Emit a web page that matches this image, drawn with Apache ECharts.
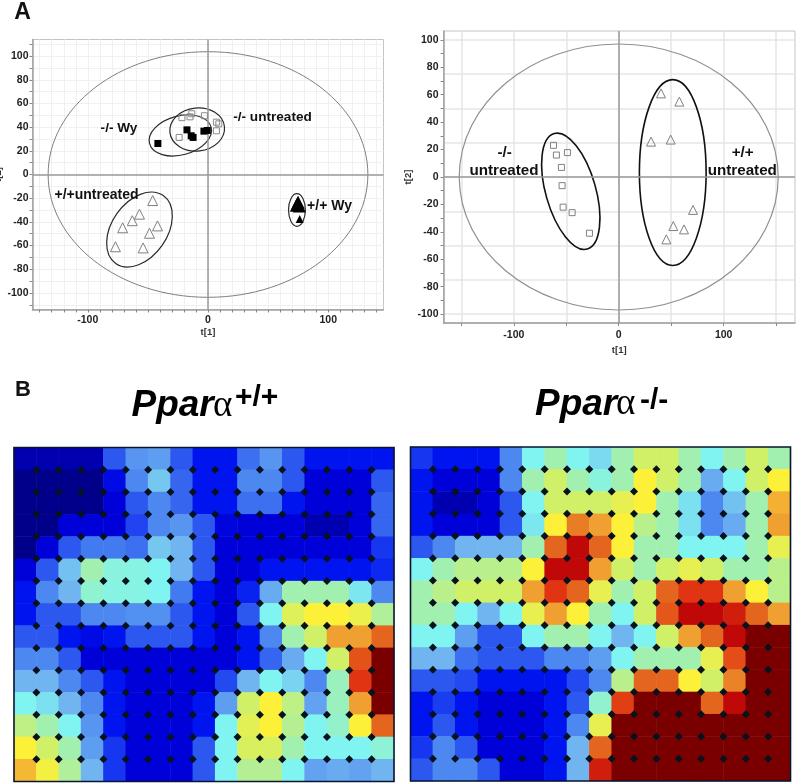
<!DOCTYPE html>
<html><head><meta charset="utf-8">
<style>html,body{margin:0;padding:0;background:#fff}#c{width:797px;height:784px}</style>
<script src="https://cdn.jsdelivr.net/npm/echarts@6/dist/echarts.min.js"></script>
</head><body><div id="c"></div>
<script>
// ---------- Panel A, left score plot ----------
const leftOpenSquares = [[-21.7,48],[-15,48.7],[-13.5,51.3],[-3,49.6],[7,44.2],[9,42.8],[7,36.9],[-24,31.3]];
const leftFilledSquares = [[-41.7,26.2],[-17.5,37.7],[-14,32.7],[-12.4,31.3],[-3.4,36.6],[-0.6,37.2]];
const leftOpenTriangles = [[-46,-22],[-57,-33.5],[-63,-39],[-71,-45],[-77,-61],[-54,-62],[-48.7,-49.6],[-42,-43.4]];
const leftFilledTrianglesBig = [[74.6,-24],[73.5,-26],[76,-26.5],[74.8,-25],[75,-23.5]];
const leftFilledTrianglesSmall = [[76.3,-37.5]];
// cx, cy, radius along x, radius along y, tilt in degrees
const leftGroupEllipses = [[-23,33,26.5,16.5,15],[-9,38,22.8,18.2,6],[-57,-46.5,23,35,-35],[74,-30,7,13.8,0]];
const leftHotelling = [[0,0,133,103.7,0]];
// ---------- Panel A, right score plot ----------
const rightSquares = [[-62.2,23.1],[-59.4,16],[-48.9,17.8],[-54.6,7],[-54,-6.3],[-53,-22],[-44.4,-26],[-27.9,-41]];
const rightTriangles = [[40.3,61],[57.8,55],[30.8,25.8],[49.5,27.3],[70.8,-24],[52,-35.8],[62.2,-38.2],[45.4,-45.5]];
const rightGroupEllipses = [[-45.7,-10.4,23.8,43.8,16],[51.5,3.2,31.8,67.8,0]];
const rightHotelling = [[0,0,152,97,0]];
// ---------- Axis tick labels ----------
const leftXLabels = [-100,0,100];
const leftYLabels = [-100,-80,-60,-40,-20,0,20,40,60,80,100];
const leftXTicks = [-140,-130,-120,-110,-100,-90,-80,-70,-60,-50,-40,-30,-20,-10,0,10,20,30,40,50,60,70,80,90,100,110,120,130,140];
const leftYTicks = [-110,-100,-90,-80,-70,-60,-50,-40,-30,-20,-10,0,10,20,30,40,50,60,70,80,90,100,110];
const rightXLabels = [-100,0,100];
const rightYLabels = [-100,-80,-60,-40,-20,0,20,40,60,80,100];
const rightXTicks = [-150,-100,-50,0,50,100,150];
const rightYTicks = [-100,-90,-80,-70,-60,-50,-40,-30,-20,-10,0,10,20,30,40,50,60,70,80,90,100];
const rightYGrid = [-100,-75,-50,-25,0,25,50,75,100];
// ---------- Panel B, SOM level maps (0 = deep blue ... 14 = dark red) ----------
const heatLeft = [
[0.5,0.5,0.5,0.5,3,4.3,4.5,3,2,2,3.5,4.3,3,2,2,2,2],
[0,0,0,0,1.5,4,5.3,3.3,2,2,4,4,3,1,1,1,3],
[0,0,0,0,1,3,4,3.3,2,2,3.5,3.5,2,1,1,1,3.3],
[0,0,1,1,1,2.7,4,4.3,3,1.2,1,1,1,0.5,0.5,1,3.3],
[0,1,3,3.7,3.7,3.5,5.3,5,3,1,1,1,1,1,1,1,2.5],
[1,3,5.2,7,6.3,6.2,6,5,3,1,1,2,2,2,2,2,2.3],
[2,4,5,6.5,6.2,6.2,6,3.7,2,1,2.2,4.8,7,7,7,5.8,4],
[2,3,3,4,4,4.2,4.2,3,2,1,3,6,8.3,9,9,8.6,7.3],
[3,3,2,1.5,2,3,3,3,2,1,2,4,7,8,10,10,11],
[4,4,3,1,1,1,1,1,1,1,2,3.3,4.8,6,8,11.4,14],
[5,5,4,3,2,1,1,1,1,2.8,5,6,5.5,4,6.8,12,14],
[6,5.7,5,4,2,1,1,1,2,4.5,8,9,7.6,4.6,6.8,10,14],
[7.6,7,6,4.3,2,1,1,1,2,6,8.4,9,7.4,6,6.6,9,11],
[9,8,7,4.5,2.5,1,1,1,3,6,8.2,8.2,7,6,6,6,6.4],
[9.7,8.8,7.3,5,2.5,1,1,1,3,6,7.4,7.4,6,4.6,4.8,4.6,5]
];
const heatRight = [
[2.5,2,2,2,4,6,7,6,5.6,7,8,8,7,6,7,8,7],
[2,1,1,1,4,7,8,7,6.3,7,9,8,7,4.8,6,8,9],
[2,0.5,0.5,1,3,6,8,8,8,8.5,9,7,5.7,4,5.2,7,9.8],
[2,1,1,1,3,5.8,9,10.6,10,9,7.5,7,5.7,4,4.8,7,10],
[3,4,5,5,5,7,11,13,11,9,7,7,6,6,6,7,8.5],
[6,7,7.5,7.5,7.5,9,13,13,10,8,7,8,8.5,8,7,7,7.5],
[7,7.5,8,8,8,10,12,11,8.5,7,8,11,12,12,10,9,7.5],
[7,7,6,5,6,8.5,10,9,7,6,8,11.3,13,13,12.5,11,10],
[6,6,4.5,3,3,6,7,7,6,5,6,8,10,11,13,14,14],
[5,5,3.5,3,3,3,4,4,4.5,6,7,7,7,8.5,11.5,14,14],
[3,3,2.8,2,2,2,2,2.8,4,7.5,11,11,9,8,10.5,14,14],
[2,2.6,2,1,1,1,2,3,6.5,11.8,14,14,14,11,13,14,14],
[2,3,2,1,1,1,2,4,8.5,14,14,14,14,14,14,14,14],
[2.5,4,3,1,1,1,2,5,11,14,14,14,14,14,14,14,14],
[3,4,4,3,1,1,2,5,12.5,14,14,14,14,14,14,14,14]
];
const levelColors = ['#00008a','#0000d8','#0014f0','#2c58f0','#4c88f0','#70b4f0','#80f4f0','#a2f0b0','#d0f068','#fdf038','#f0a030','#e4661e','#e03412','#c00808','#7a0000'];
const heatCols = 17, heatRows = 15;

// ---------- Rendering helpers ----------
const FONT = '"Liberation Sans", Arial, sans-serif';
function toCells(rows){const o=[];rows.forEach((r,j)=>r.forEach((v,i)=>o.push([i,j,v])));return o;}
// one dot per interior cell corner: the corner to the lower right of cell (i, j)
function cornerCells(){const o=[];for(let i=0;i<heatCols-1;i++)for(let j=0;j<heatRows-1;j++)o.push([i,j]);return o;}
function cats(n){return Array.from({length:n},(_,i)=>String(i));}
function dotSeries(xi,yi){
  return {type:'custom',xAxisIndex:xi,yAxisIndex:yi,z:6,silent:true,data:cornerCells(),encode:{x:0,y:1},
    renderItem(p,api){
      const a=api.coord([api.value(0),api.value(1)]);
      const b=api.coord([api.value(0)+1,api.value(1)+1]);
      const x=(a[0]+b[0])/2,y=(a[1]+b[1])/2,r=4;
      return {type:'polygon',shape:{points:[[x,y-r],[x+r,y],[x,y+r],[x-r,y]]},style:{fill:'#07121e'}};
    }};
}
function ellipseSeries(data,xi,yi,color,width,z){
  return {type:'custom',xAxisIndex:xi,yAxisIndex:yi,z,silent:true,clip:false,data,
    encode:{x:0,y:1},
    renderItem(p,api){
      const c=api.coord([api.value(0),api.value(1)]);
      const s=api.size([1,1]);
      return {type:'ellipse',x:c[0],y:c[1],rotation:api.value(4)*Math.PI/180,
        shape:{cx:0,cy:0,rx:api.value(2)*s[0],ry:api.value(3)*s[1]},
        style:{fill:null,stroke:color,lineWidth:width}};
    }};
}
function marks(data,xi,yi,symbol,size,fill,stroke,z){
  return {type:'scatter',xAxisIndex:xi,yAxisIndex:yi,data,symbol,symbolSize:size,z:z||5,silent:true,
    itemStyle:{color:fill,borderColor:stroke,borderWidth:fill==='transparent'?1:0,opacity:1}};
}
function zeroLines(xi,yi){
  return {type:'scatter',xAxisIndex:xi,yAxisIndex:yi,data:[],z:3,silent:true,
    markLine:{silent:true,symbol:'none',label:{show:false},animation:false,
      lineStyle:{color:'#9a9a9a',width:1.5,type:'solid'},data:[{xAxis:0},{yAxis:0}]}};
}
const lblStyle={fontFamily:FONT,fontWeight:'bold',fontSize:10.5,color:'#222'};
function valAxis(o){
  return Object.assign({type:'value',scale:false,
    nameLocation:'middle',nameTextStyle:{fontFamily:FONT,fontWeight:'bold',fontSize:9.5,color:'#333'},
    axisLine:{show:true,onZero:false,lineStyle:{color:'#a0a0a0',width:1.5}},
  },o);
}
function text(t,x,y,size,o){
  return {type:'text',z:50,style:Object.assign({text:t,x,y,fill:'#111',
    font:'bold '+size+'px '+FONT,align:'center',verticalAlign:'middle'},o||{})};
}
function baseText(t,x,base,size,font){
  return {type:'text',z:50,style:{text:t,x,y:base+size*0.212,fill:'#000',font,align:'left',verticalAlign:'bottom'}};
}
const heatL={left:14,top:447.5,width:380,height:334,outerBoundsMode:'none'};
const heatR={left:410.5,top:447,width:380,height:334,outerBoundsMode:'none'};

const option={
  animation:false,backgroundColor:'#fff',
  grid:[
    {left:32.5,top:39.5,width:351,height:270,show:true,borderColor:'#c4c4c4',borderWidth:1,outerBoundsMode:'none'},
    {left:443.5,top:31,width:351.5,height:292,show:true,borderColor:'#c4c4c4',borderWidth:1,outerBoundsMode:'none'},
    heatL,heatR
  ],
  visualMap:{show:false,type:'continuous',min:0,max:14,seriesIndex:[0,1],dimension:2,inRange:{color:levelColors}},
  xAxis:[
    valAxis({gridIndex:0,min:-146,max:146,name:'t[1]',nameGap:18,
      axisTick:{show:true,length:3,customValues:leftXTicks,lineStyle:{color:'#888'}},
      axisLabel:Object.assign({customValues:leftXLabels,margin:5},lblStyle),
      splitLine:{show:true,lineStyle:{color:'#f0f0f0',width:1}}}),
    valAxis({gridIndex:1,min:-167,max:168,name:'t[1]',nameGap:22,
      axisTick:{show:true,length:3,customValues:rightXTicks,lineStyle:{color:'#888'}},
      axisLabel:Object.assign({customValues:rightXLabels,margin:7},lblStyle),
      splitLine:{show:true,lineStyle:{color:'#e6e6e6',width:1.5}}}),
    {type:'category',gridIndex:2,data:cats(heatCols),show:false},
    {type:'category',gridIndex:3,data:cats(heatCols),show:false}
  ],
  yAxis:[
    valAxis({gridIndex:0,min:-114,max:114,name:'t[2]',nameGap:21,
      axisTick:{show:true,length:3,customValues:leftYTicks,lineStyle:{color:'#888'}},
      axisLabel:Object.assign({customValues:leftYLabels,margin:4},lblStyle),
      splitLine:{show:true,lineStyle:{color:'#f0f0f0',width:1}}}),
    valAxis({gridIndex:1,min:-106.5,max:106.5,name:'t[2]',nameGap:26,
      axisTick:{show:true,length:3,customValues:rightYTicks,lineStyle:{color:'#888'}},
      axisLabel:Object.assign({customValues:rightYLabels,margin:5},lblStyle),
      splitLine:{show:false}}),
    {type:'value',gridIndex:1,min:-106.5,max:106.5,position:'right',
      axisLine:{show:false},axisLabel:{show:false},
      axisTick:{show:false,customValues:rightYGrid},
      splitLine:{show:true,lineStyle:{color:'#e6e6e6',width:1.5}}},
    {type:'category',gridIndex:2,data:cats(heatRows),inverse:true,show:false},
    {type:'category',gridIndex:3,data:cats(heatRows),inverse:true,show:false}
  ],
  series:[
    {type:'heatmap',xAxisIndex:2,yAxisIndex:3,data:toCells(heatLeft),silent:true,z:2,progressive:0},
    {type:'heatmap',xAxisIndex:3,yAxisIndex:4,data:toCells(heatRight),silent:true,z:2,progressive:0},
    dotSeries(2,3),
    dotSeries(3,4),
    zeroLines(0,0),
    zeroLines(1,1),
    ellipseSeries(leftHotelling,0,0,'#808080',1,4),
    ellipseSeries(rightHotelling,1,1,'#909090',1.2,4),
    ellipseSeries(leftGroupEllipses,0,0,'#2a2a2a',1.2,4),
    ellipseSeries(rightGroupEllipses,1,1,'#111111',1.6,4),
    marks(leftOpenSquares,0,0,'rect',6,'transparent','#8a8a8a'),
    marks(leftFilledSquares,0,0,'rect',7,'#000','#000'),
    marks(leftOpenTriangles,0,0,'triangle',10,'transparent','#808080'),
    marks(leftFilledTrianglesBig,0,0,'triangle',13,'#000','#000'),
    marks(leftFilledTrianglesSmall,0,0,'triangle',8,'#000','#000'),
    marks(rightSquares,1,1,'rect',6,'transparent','#808080'),
    marks(rightTriangles,1,1,'triangle',9,'transparent','#808080')
  ],
  graphic:[
    text('A',22.5,12.5,23),
    text('B',23,389.5,22),
    text('-/- Wy',119,128.5,13.6),
    text('-/- untreated',272.5,117,13.6),
    text('+/+untreated',96.5,195,14),
    text('+/+ Wy',329.5,206,14),
    text('-/-',504.7,152.7,15.2),
    text('untreated',504,170.7,15.2),
    text('+/+',742.7,152.7,15.2),
    text('untreated',742.3,170.7,15.2),
    baseText('Ppar',131.5,416.5,37,'italic bold 37px '+FONT),
    baseText('α',213,416.5,37,'37px "Liberation Serif", serif'),
    baseText('+/+',235,406,30,'bold 30px '+FONT),
    baseText('Ppar',535,415,37,'italic bold 37px '+FONT),
    baseText('α',616,415,37,'37px "Liberation Serif", serif'),
    baseText('-/-',640,409,30,'bold 30px '+FONT),
    {type:'rect',z:40,shape:{x:heatL.left,y:heatL.top,width:heatL.width,height:heatL.height},style:{fill:null,stroke:'#0a1430',lineWidth:1.6}},
    {type:'rect',z:40,shape:{x:heatR.left,y:heatR.top,width:heatR.width,height:heatR.height},style:{fill:null,stroke:'#0a1430',lineWidth:1.6}}
  ]
};
echarts.init(document.getElementById('c'),null,{renderer:'canvas'}).setOption(option);
</script></body></html>
